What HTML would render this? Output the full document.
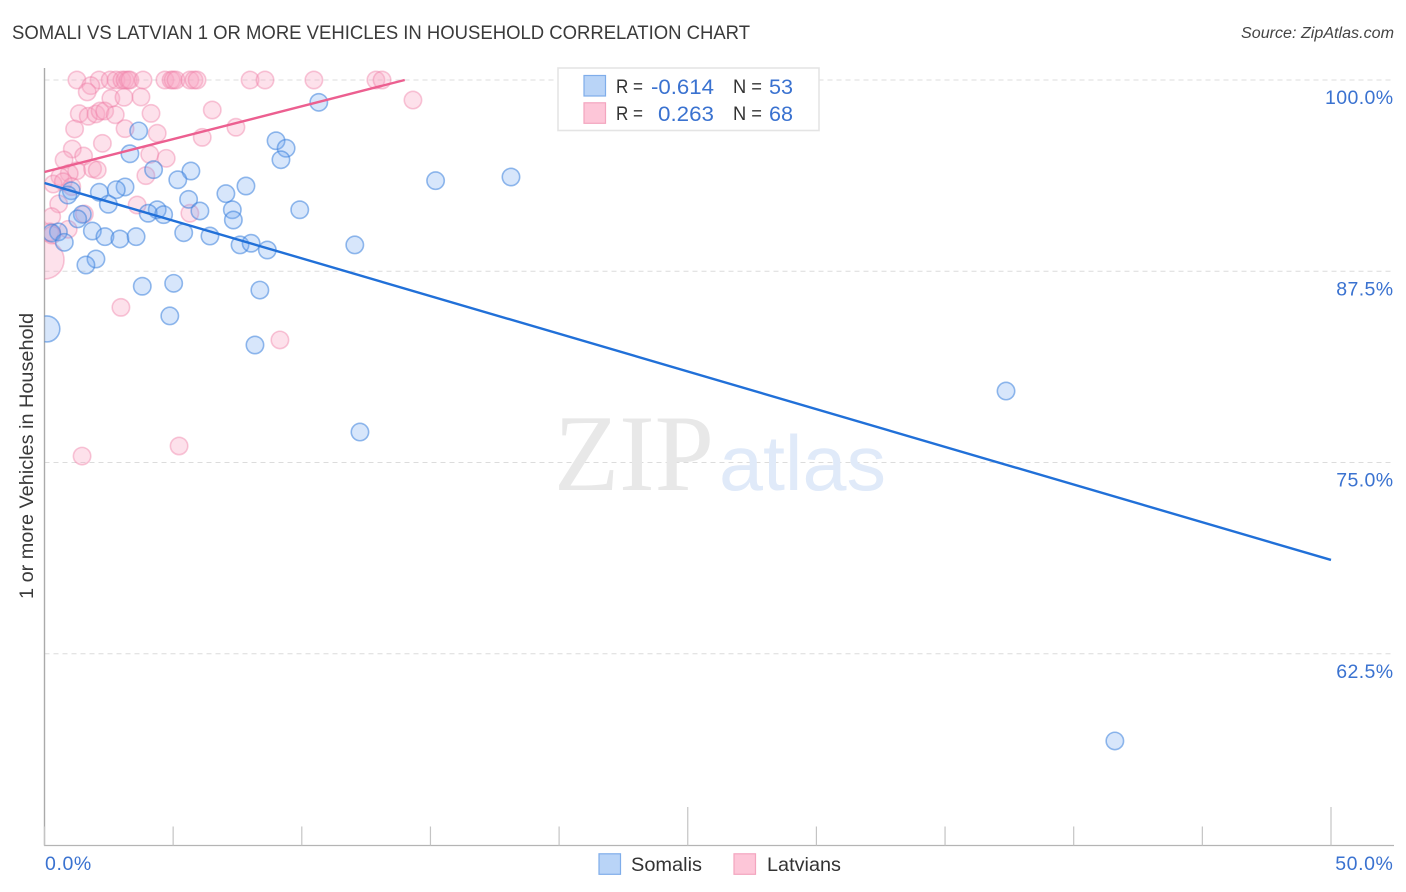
<!DOCTYPE html>
<html lang="en">
<head>
<meta charset="utf-8">
<title>Somali vs Latvian 1 or More Vehicles in Household Correlation Chart</title>
<style>
html,body{margin:0;padding:0;background:#fff;}
svg{display:block;}
text{font-family:"Liberation Sans",sans-serif;}
</style>
</head>
<body>
<svg id="chart" xmlns="http://www.w3.org/2000/svg" width="1406" height="892" viewBox="0 0 1406 892">
  <defs>
    <clipPath id="plot-clip"><rect x="44.5" y="60" width="1350" height="785"></rect></clipPath>
  </defs>
  <text x="12" y="39" font-size="19" fill="#3a3a3a" textLength="738" lengthAdjust="spacingAndGlyphs">SOMALI VS LATVIAN 1 OR MORE VEHICLES IN HOUSEHOLD CORRELATION CHART</text>
  <text x="1241" y="38" font-size="15.5" font-style="italic" fill="#444" textLength="153" lengthAdjust="spacingAndGlyphs">Source: ZipAtlas.com</text>
  <text transform="translate(33,456) rotate(-90)" font-size="19" fill="#3a3a3a" text-anchor="middle" textLength="286" lengthAdjust="spacingAndGlyphs">1 or more Vehicles in Household</text>

  <g id="grid"></g>

  <g>
    <text x="554" y="490" font-size="109" fill="#e8e8e8" style="font-family:'Liberation Serif',serif" textLength="160" lengthAdjust="spacingAndGlyphs">ZIP</text>
    <text x="719" y="490" font-size="78" fill="#e0eaf9" textLength="167" lengthAdjust="spacingAndGlyphs">atlas</text>
  </g>

  <g id="axes"></g>
  <g id="points" clip-path="url(#plot-clip)"></g>
  <g id="trends" clip-path="url(#plot-clip)"></g>

  <g>
    <rect x="558" y="68" width="261" height="62.5" fill="#fff" stroke="#e4e4e4" stroke-width="1.6"></rect>
    <rect x="584" y="75.5" width="21.5" height="20.5" fill="#b9d4f7" stroke="#7fadea" stroke-width="1.2"></rect>
    <rect x="584" y="102.8" width="21.5" height="20.5" fill="#fdc6d8" stroke="#f3a5bf" stroke-width="1.2"></rect>
    <text x="616" y="93" font-size="19.5" fill="#333" textLength="27" lengthAdjust="spacingAndGlyphs">R =</text>
    <text x="714" y="94" font-size="21.5" fill="#3a72d0" text-anchor="end" textLength="63" lengthAdjust="spacingAndGlyphs">-0.614</text>
    <text x="733" y="93" font-size="19.5" fill="#333" textLength="29" lengthAdjust="spacingAndGlyphs">N =</text>
    <text x="769" y="94" font-size="21.5" fill="#3a72d0" textLength="24" lengthAdjust="spacingAndGlyphs">53</text>
    <text x="616" y="120" font-size="19.5" fill="#333" textLength="27" lengthAdjust="spacingAndGlyphs">R =</text>
    <text x="714" y="121" font-size="21.5" fill="#3a72d0" text-anchor="end" textLength="56" lengthAdjust="spacingAndGlyphs">0.263</text>
    <text x="733" y="120" font-size="19.5" fill="#333" textLength="29" lengthAdjust="spacingAndGlyphs">N =</text>
    <text x="769" y="121" font-size="21.5" fill="#3a72d0" textLength="24" lengthAdjust="spacingAndGlyphs">68</text>
  </g>

  <g>
    <rect x="599" y="853.8" width="21.5" height="20.5" fill="#b9d4f7" stroke="#7fadea" stroke-width="1.2"></rect>
    <text x="631" y="871" font-size="19.5" fill="#333" textLength="71" lengthAdjust="spacingAndGlyphs">Somalis</text>
    <rect x="734" y="853.8" width="21.5" height="20.5" fill="#fdc6d8" stroke="#f3a5bf" stroke-width="1.2"></rect>
    <text x="767" y="871" font-size="19.5" fill="#333" textLength="74" lengthAdjust="spacingAndGlyphs">Latvians</text>
  </g>
</svg>
<script>
const yTickValues = [100, 87.5, 75, 62.5];
const yTickLabels = ["100.0%", "87.5%", "75.0%", "62.5%"];
const xTickValues = [0, 5, 10, 15, 20, 25, 30, 35, 40, 45, 50];
const xEndValues = [0, 50];
const xEndLabels = ["0.0%", "50.0%"];

const somaliX = [3.66,3.32,5.69,5.18,4.24,3.13,2.79,2.13,1.04,0.91,5.60,2.48,4.38,4.03,4.63,6.04,7.05,1.47,1.29,1.86,2.35,2.93,3.56,5.41,6.43,0.54,0.28,0.77,2.00,1.61,3.80,5.02,4.87,10.66,9.00,9.39,9.19,7.83,7.30,7.34,9.92,7.60,8.03,8.66,12.06,15.20,18.13,12.26,8.18,8.37,37.37,41.60];
const somaliY = [96.67,95.18,94.05,93.48,94.14,93.01,92.83,92.66,92.76,92.48,92.20,91.88,91.52,91.29,91.20,91.44,92.57,91.22,90.92,90.13,89.76,89.61,89.76,90.02,89.80,90.07,90.00,89.39,88.30,87.91,86.52,86.71,84.58,98.54,96.03,95.54,94.79,93.07,91.52,90.85,91.52,89.22,89.33,88.89,89.22,93.42,93.66,76.99,82.68,86.27,79.67,56.80];
const somaliLargeX = [0.09];
const somaliLargeY = [83.73];

const latvianX = [1.26,2.12,2.55,2.78,3.01,3.13,3.25,3.32,3.83,4.68,4.92,5.00,5.11,5.65,5.81,5.93,7.99,8.57,10.47,12.88,13.12,1.80,1.66,2.58,3.09,3.75,1.35,1.70,2.00,2.16,2.34,2.75,4.14,6.52,1.17,3.13,4.38,6.13,7.44,2.25,1.08,1.52,4.09,4.73,0.76,1.25,1.87,2.05,3.94,0.96,0.60,0.34,0.73,1.06,0.55,3.60,5.65,0.28,1.55,0.92,0.21,0.29,2.97,9.15,5.23,1.46,14.32];
const latvianY = [100,100,100,100,100,100,100,100,100,100,100,100,100,100,100,100,100,100,100,100,100,99.63,99.22,98.80,98.87,98.89,97.80,97.63,97.78,97.97,97.97,97.73,97.82,98.04,96.80,96.82,96.52,96.25,96.91,95.86,95.49,95.03,95.14,94.88,94.77,94.07,94.20,94.12,93.75,93.90,93.68,93.20,93.35,93.03,91.90,91.83,91.29,91.07,91.24,90.24,90.07,89.87,85.14,83.01,76.08,75.42,98.69];
const latvianLargeX = [0.02];
const latvianLargeY = [88.24];

const somaliTrendX = [0, 50];
const somaliTrendY = [93.27, 68.63];
const latvianTrendX = [0, 14.0];
const latvianTrendY = [93.99, 100];

const NS = "http://www.w3.org/2000/svg";
function xScale(v) { return 44.5 + v * 25.73; }
function yScale(v) { return 80 + (100 - v) * 15.3; }
function make(tag, attrs, parent) {
  const el = document.createElementNS(NS, tag);
  for (const k in attrs) el.setAttribute(k, attrs[k]);
  parent.appendChild(el);
  return el;
}

const grid = document.getElementById("grid");
const axes = document.getElementById("axes");
const pointsLayer = document.getElementById("points");
const trends = document.getElementById("trends");

yTickValues.forEach(function (v, i) {
  const line = make("line", {x1: 44.5, x2: 1393, y1: yScale(v), y2: yScale(v), stroke: "#dcdcdc", "stroke-width": 1.1, "stroke-dasharray": "5 4"}, grid);
  
  
  const label = make("text", {x: 1393.5, y: yScale(v) + 24, "font-size": 19.5, fill: "#3a72d0", "text-anchor": "end", "letter-spacing": 0.4}, axes);
  
  
  label.textContent = yTickLabels[i];
});

const yAxisLine = make("line", {x1: 44.5, x2: 44.5, y1: 68, y2: 845.5, stroke: "#aaa", "stroke-width": 1.4}, axes);


const xAxisLine = make("line", {x1: 44, x2: 1394, y1: 845.5, y2: 845.5, stroke: "#b4b4b4", "stroke-width": 1.3}, axes);



xTickValues.forEach(function (v) {
  const major = v === 25 || v === 50;
  const tick = make("line", {x1: xScale(v), x2: xScale(v), y1: major ? 807 : 826.5, y2: 845.5, stroke: "#c4c4c4", "stroke-width": 1.2}, axes);
  
  
});

xEndValues.forEach(function (v, i) {
  const label = make("text", {x: i === 0 ? xScale(v) + 0.5 : 1393.5, y: 870, "font-size": 19.5, fill: "#3a72d0", "text-anchor": i === 0 ? "start" : "end", "letter-spacing": 0.6}, axes);
  
  
  label.textContent = xEndLabels[i];
});

const somaliStyle = {fill: "rgba(110,165,240,0.28)", stroke: "rgba(60,130,220,0.55)", "stroke-width": 1.6};
const latvianStyle = {fill: "rgba(250,165,195,0.33)", stroke: "rgba(238,125,165,0.42)", "stroke-width": 1.6};

function drawSeries(xs, ys, radius, style, group) {
  xs.forEach(function (x, i) {
    const c = make("circle", Object.assign({cx: xScale(x), cy: yScale(ys[i]), r: radius}, style), group);
    
    
  });
}

const latvianGroup = make("g", {}, pointsLayer);


const somaliGroup = make("g", {}, pointsLayer);



drawSeries(latvianLargeX, latvianLargeY, 19, latvianStyle, latvianGroup);
drawSeries(latvianX, latvianY, 8.7, latvianStyle, latvianGroup);
drawSeries(somaliLargeX, somaliLargeY, 13, somaliStyle, somaliGroup);
drawSeries(somaliX, somaliY, 8.7, somaliStyle, somaliGroup);

const latvianTrend = make("line", {x1: xScale(latvianTrendX[0]), y1: yScale(latvianTrendY[0]), x2: xScale(latvianTrendX[1]), y2: yScale(latvianTrendY[1]), stroke: "#ec5f90", "stroke-width": 2.4}, trends);


const somaliTrend = make("line", {x1: xScale(somaliTrendX[0]), y1: yScale(somaliTrendY[0]), x2: xScale(somaliTrendX[1]), y2: yScale(somaliTrendY[1]), stroke: "#2170d8", "stroke-width": 2.4}, trends);


</script>
</body>
</html>
